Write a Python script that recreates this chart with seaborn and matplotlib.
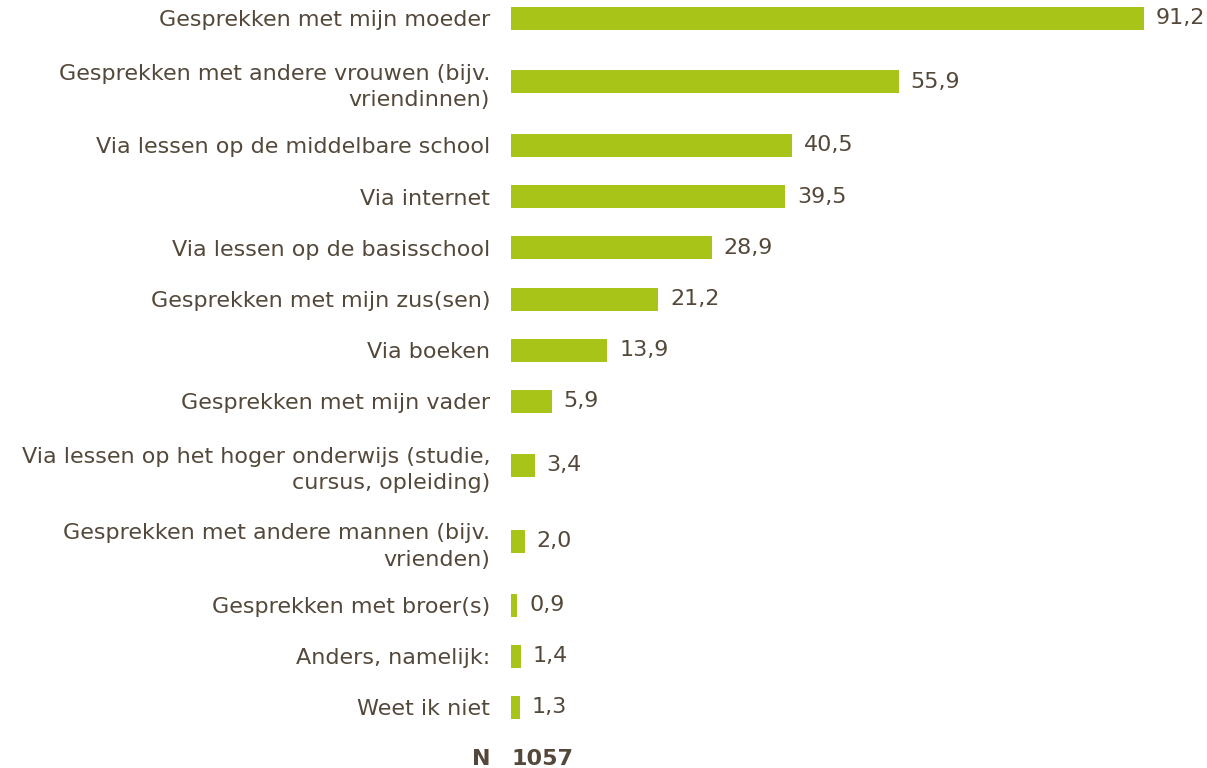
import matplotlib
matplotlib.use("Agg")
import matplotlib.pyplot as plt
import seaborn as sns
import pandas as pd

# data
labels = [
    "Gesprekken met mijn moeder",
    "Gesprekken met andere vrouwen (bijv.\nvriendinnen)",
    "Via lessen op de middelbare school",
    "Via internet",
    "Via lessen op de basisschool",
    "Gesprekken met mijn zus(sen)",
    "Via boeken",
    "Gesprekken met mijn vader",
    "Via lessen op het hoger onderwijs (studie,\ncursus, opleiding)",
    "Gesprekken met andere mannen (bijv.\nvrienden)",
    "Gesprekken met broer(s)",
    "Anders, namelijk:",
    "Weet ik niet",
]
values = [91.2, 55.9, 40.5, 39.5, 28.9, 21.2, 13.9, 5.9, 3.4, 2.0, 0.9, 1.4, 1.3]
n_label = "N"
n_value = "1057"

BAR = "#a8c418"
TXT = "#54483a"
FS = 16

sns.set_theme(style="white")
plt.rcParams["font.family"] = ["DejaVu Sans"]

# row positions in pixels: two-line labels get extra room
step, extra = 51.2, 12.5
lines = [l.count("\n") for l in labels]
pos = [18.0]
for i in range(1, len(labels)):
    pos.append(pos[-1] + step + extra * (lines[i - 1] + lines[i]))
n_pos = pos[-1] + step

df = pd.DataFrame({"label": labels, "value": values, "pos": pos})

fig = plt.figure(figsize=(12.07, 7.68), dpi=100)
ax = fig.add_axes([511 / 1207, 0, 1 - 511 / 1207, 1])

sns.barplot(data=df, x="value", y="pos", orient="h", native_scale=True,
            color=BAR, saturation=1, width=23 / step, linewidth=0, ax=ax)

ax.set_xlim(0, 100.3)
ax.set_ylim(768, 0)
ax.set_yticks(pos, labels)
ax.tick_params(axis="y", length=0, pad=15, labelsize=FS, labelcolor=TXT)
for t in ax.get_yticklabels():
    t.set_linespacing(1.4)
ax.set_xticks([])
ax.set_xlabel("")
ax.set_ylabel("")
sns.despine(ax=ax, left=True, bottom=True)

for v, p in zip(values, pos):
    ax.annotate(f"{v:.1f}".replace(".", ","), (v, p), xytext=(8.5, 0),
                textcoords="offset points", va="center", ha="left",
                fontsize=FS, color=TXT)

ax.annotate(n_label, (0, n_pos), xytext=(-15, 0), textcoords="offset points",
            va="center", ha="right", fontsize=FS, color=TXT, fontweight="bold",
            annotation_clip=False)
ax.annotate(n_value, (0, n_pos), xytext=(0, 0), textcoords="offset points",
            va="center", ha="left", fontsize=FS, color=TXT, fontweight="bold",
            annotation_clip=False)

fig.savefig("out.png", dpi=100)
